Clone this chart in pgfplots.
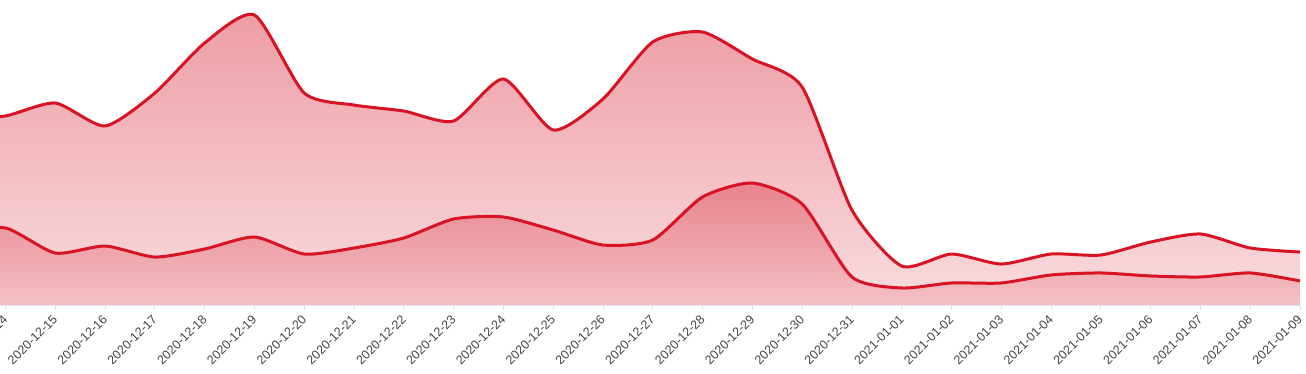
\documentclass[border=0pt]{standalone}
\usepackage{fontspec}
\setmainfont{Liberation Sans}
\usepackage{pgfplots}
\usepackage{pgfplotstable}
\pgfplotsset{compat=1.18}
\definecolor{linered}{RGB}{216,20,36}
\definecolor{uptop}{RGB}{237,156,164}
\definecolor{upbot}{RGB}{249,220,223}
\definecolor{lotop}{RGB}{232,131,140}
\definecolor{lobot}{RGB}{244,192,197}
\definecolor{tickgray}{RGB}{68,68,68}
\pgfplotstableread{
day upper lower
-1  240   92
0   245.5 100
1   262.3 67.5
2   232.5 76.6
3   275.3 62.3
4   340.3 72.7
5   376.6 88.3
6   275.3 66.2
7   259.7 74.0
8   251.9 87.0
9   239.0 111.7
10  293.5 114.3
11  227.3 97.4
12  267.5 77.9
13  341.6 84.4
14  354.5 140.3
15  319.5 158.4
16  283.1 131.2
17  123.4 36.4
18  50.6  22.1
19  66.2  28.6
20  53.2  28.6
21  66.2  39.0
22  64.9  41.6
23  81.8  37.7
24  92.2  36.4
25  74.0  41.6
26  68.8  31.2
}\datatable
\begin{document}
\begin{tikzpicture}
\begin{axis}[
  scale only axis,
  width=1300pt, height=308pt,
  xmin=-0.11, xmax=26,
  ymin=0, ymax=400,
  axis on top,
  axis y line=none,
  axis x line*=bottom,
  x axis line style={draw=black!10, line width=0.8pt},
  xtick={0,...,26},
  xticklabels={2020-12-14,2020-12-15,2020-12-16,2020-12-17,2020-12-18,2020-12-19,2020-12-20,2020-12-21,2020-12-22,2020-12-23,2020-12-24,2020-12-25,2020-12-26,2020-12-27,2020-12-28,2020-12-29,2020-12-30,2020-12-31,2021-01-01,2021-01-02,2021-01-03,2021-01-04,2021-01-05,2021-01-06,2021-01-07,2021-01-08,2021-01-09},
  xtick pos=bottom,
  xtick align=outside,
  major tick length=5pt,
  xtick style={draw=black!12, line width=0.8pt},
  xticklabel style={rotate=45, anchor=east, inner sep=0pt, font=\fontsize{12.5}{14}\selectfont, text=tickgray},
  xticklabel shift=7pt,
  ytick={100,200,300},
  ymajorgrids,
  grid style={draw=black, opacity=0.1, line width=0.9pt},
]
\addplot[draw=none, smooth, tension=0.4, top color=uptop, bottom color=upbot] table[x=day, y=upper] {\datatable} \closedcycle;
\addplot[draw=none, smooth, tension=0.4, top color=lotop, bottom color=lobot] table[x=day, y=lower] {\datatable} \closedcycle;
\addplot[linered, line width=3pt, smooth, tension=0.4] table[x=day, y=upper] {\datatable};
\addplot[linered, line width=3pt, smooth, tension=0.4] table[x=day, y=lower] {\datatable};
\end{axis}
\pgfresetboundingbox
\useasboundingbox (0pt,-69pt) rectangle (1306pt,305pt);
\end{tikzpicture}
\end{document}
